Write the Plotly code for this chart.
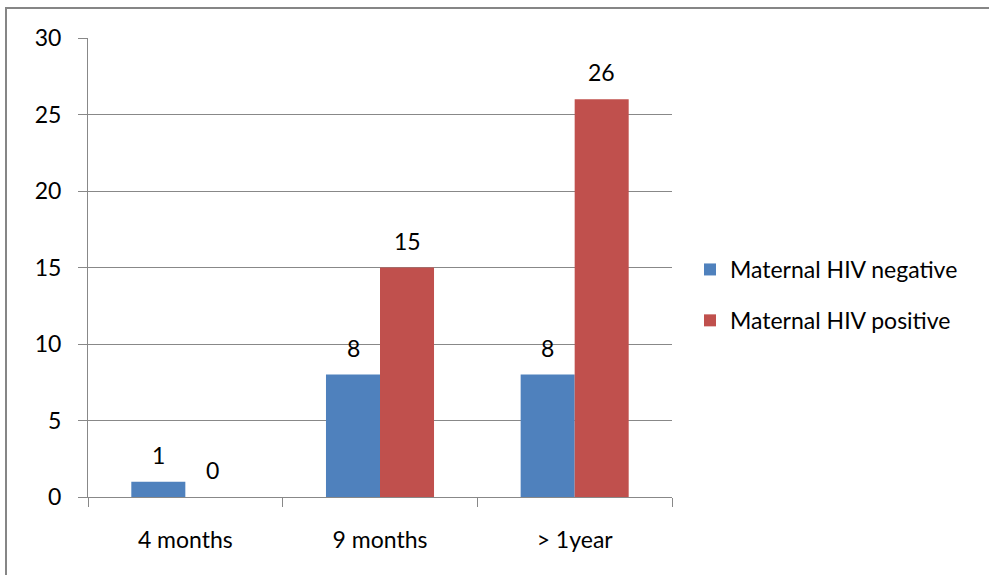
import plotly.graph_objects as go

categories = ["4 months", "9 months", "> 1year"]
hiv_negative = [1, 8, 8]
hiv_positive = [0, 15, 26]
y_ticks = [0, 5, 10, 15, 20, 25, 30]
series = [
    ("Maternal HIV negative", hiv_negative, "#4F81BD", "a", -27),
    ("Maternal HIV positive", hiv_positive, "#C0504D", "b", 27),
]

FONT = "Lato"
FS = 23

fig = go.Figure()
annotations = []
for name, vals, color, grp, shift in series:
    fig.add_trace(go.Bar(
        x=categories, y=vals, name=name,
        marker=dict(color=color, line=dict(width=0)),
        legendgroup=grp,
    ))
    for c, v in zip(categories, vals):
        annotations.append(dict(
            x=c, y=v, xref="x", yref="y", text=str(v), showarrow=False,
            xshift=shift, yshift=27, yanchor="middle", xanchor="center",
            font=dict(family=FONT, size=FS, color="#000000"),
        ))

L, R, T, B = 88, 672, 38, 497
W, H = 989, 575
pw, ph = R - L, B - T

def px(x):
    return (x - L) / pw

def py(y):
    return (B - y) / ph

fig.update_layout(
    width=W, height=H,
    margin=dict(l=L, r=W - R, t=T, b=H - B, pad=0),
    paper_bgcolor="white", plot_bgcolor="white",
    barmode="group", bargap=0.445, bargroupgap=0,
    font=dict(family=FONT, size=FS, color="#000000"),
    showlegend=True,
    legend=dict(
        x=px(690), y=py(248), xanchor="left", yanchor="top",
        font=dict(family=FONT, size=FS, color="#000000"),
        traceorder="grouped", tracegroupgap=18,
        itemwidth=30, bgcolor="rgba(0,0,0,0)",
    ),
    xaxis=dict(
        type="category", tickson="boundaries", ticks="outside",
        ticklen=9, tickcolor="#888888", tickwidth=1,
        showline=True, linecolor="#888888", linewidth=1,
        showgrid=False, zeroline=False,
        tickfont=dict(family=FONT, size=FS, color="#000000"),
        ticklabelstandoff=22,
    ),
    yaxis=dict(
        range=[0, 30], tickvals=y_ticks, ticks="outside",
        ticklen=9, tickcolor="#888888", tickwidth=1,
        showline=True, linecolor="#888888", linewidth=1,
        showgrid=True, gridcolor="#888888", gridwidth=1,
        zeroline=False,
        tickfont=dict(family=FONT, size=FS, color="#000000"),
        ticklabelstandoff=12,
    ),
    annotations=annotations,
    shapes=[
        dict(type="rect", xref="paper", yref="paper",
             x0=px(6), x1=px(1100), y0=py(700), y1=py(8),
             line=dict(color="#868686", width=2), fillcolor="rgba(0,0,0,0)",
             layer="above"),
    ],
)

fig.write_html("out.html")
